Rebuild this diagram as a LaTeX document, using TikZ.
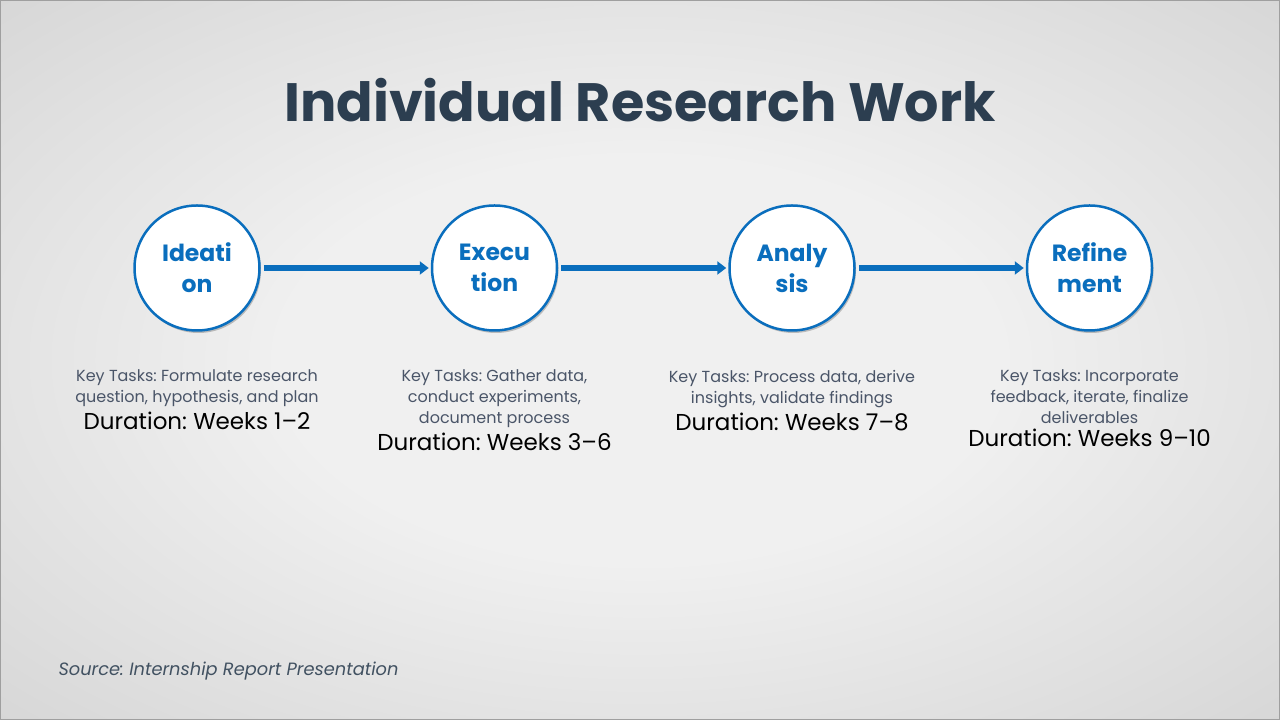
\documentclass[tikz,border=0pt]{standalone}
\usepackage{fontspec}
\setmainfont{Poppins}
\usetikzlibrary{positioning,shadows,arrows.meta}
\definecolor{stepblue}{HTML}{0A6EBD}
\definecolor{titleslate}{HTML}{2C3E50}
\definecolor{taskgray}{HTML}{4A5568}
\definecolor{bgin}{HTML}{F0F0F0}
\definecolor{bgmid}{HTML}{C6C6C6}
\definecolor{bgout}{HTML}{B2B2B2}
\pgfdeclareradialshading{bgshade}{\pgfpoint{0bp}{0bp}}{color(0bp)=(bgin); color(14bp)=(bgin); color(50bp)=(bgmid); color(72bp)=(bgout)}
\frenchspacing
\begin{document}
\begin{tikzpicture}[x=1pt,y=1pt,
			node distance=170pt,
			phase/.style={circle, draw=stepblue, line width=2.5pt, fill=white, minimum size=125pt, inner sep=0pt,
				align=center, text=stepblue, font=\fontsize{23.5}{31}\selectfont\bfseries,
				drop shadow={shadow xshift=1.5pt, shadow yshift=-2.5pt, opacity=0.22, fill=black}},
			flow/.style={draw=stepblue, line width=5.5pt, -{Triangle[length=9pt,width=13pt]}, shorten <=3pt, shorten >=2pt},
			tasks/.style={align=center, inner sep=0pt, text=taskgray, font=\fontsize{16}{21}\selectfont},
			span/.style={inner sep=0pt, text=black, font=\fontsize{23}{26}\selectfont}]

			% background
			\useasboundingbox (0,0) rectangle (1280,720);
			\shade[shading=bgshade] (0,0) rectangle (1280,720);
			\draw[gray!75, line width=1pt] (0.5,0.5) rectangle (1279.5,719.5);

			\node[text=titleslate, font=\fontsize{54}{60}\selectfont\bfseries] (title) at (640,620) {Individual Research Work};

			% phases
			\node[phase] (ideation) at (197,452) {Ideati\\on};
			\node[phase, right=of ideation] (execution) {Execu\\tion};
			\node[phase, right=of execution] (analysis) {Analy\\sis};
			\node[phase, right=of analysis] (refinement) {Refine\\ment};

			\foreach \a/\b in {ideation/execution, execution/analysis, analysis/refinement}
				\draw[flow] (\a) -- (\b);

			% key tasks and durations
			\node[tasks, below=38pt of ideation] (ideationtasks) {Key Tasks: Formulate research\\question, hypothesis, and plan};
			\node[span, below=5pt of ideationtasks] (ideationspan) {Duration: Weeks 1--2};
			\node[tasks, below=38pt of execution] (executiontasks) {Key Tasks: Gather data,\\conduct experiments,\\document process};
			\node[span, below=5pt of executiontasks] (executionspan) {Duration: Weeks 3--6};
			\node[tasks, below=38pt of analysis] (analysistasks) {Key Tasks: Process data, derive\\insights, validate findings};
			\node[span, below=5pt of analysistasks] (analysisspan) {Duration: Weeks 7--8};
			\node[tasks, below=38pt of refinement] (refinementtasks) {Key Tasks: Incorporate\\feedback, iterate, finalize\\deliverables};
			\node[span, below=5pt of refinementtasks] (refinementspan) {Duration: Weeks 9--10};

			\node[anchor=base west, text=titleslate!90, font=\fontsize{17.8}{22}\selectfont\itshape] (source) at (55,44) {Source: Internship Report Presentation};
\end{tikzpicture}
\end{document}
